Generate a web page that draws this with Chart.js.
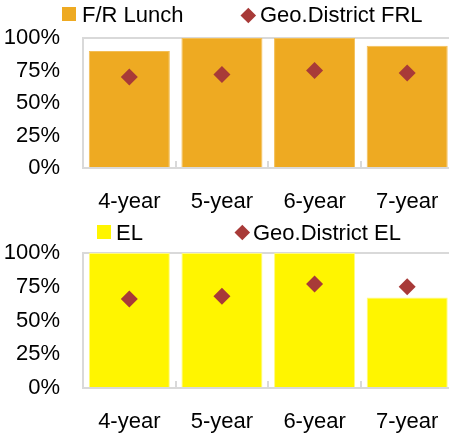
<!DOCTYPE html>
<html lang="en">
<head>
  <meta charset="UTF-8" />
  <title>Graduation rates by group</title>
  <script src="https://cdn.jsdelivr.net/npm/chart.js"></script>
  <style>
    body {
      margin: 0;
      width: 449px;
      height: 439px;
      overflow: hidden;
      background: #fff;
      position: relative;
      font-family: 'Liberation Sans', Arial, sans-serif;
    }
    .panel { position: absolute; left: 0; width: 462px; }
    .legend { position: absolute; left: 0; top: 0; width: 449px; height: 30px; font-size: 22px; color: #000; }
    .legend span { position: absolute; white-space: nowrap; line-height: 1; }
    .key { position: absolute; }
  </style>
</head>
<body>
  <div class="panel" style="top:0;height:220px">
    <canvas id="frl" width="462" height="220"></canvas>
    <div class="legend" id="frlLegend"></div>
  </div>
  <div class="panel" style="top:220px;height:219px">
    <canvas id="el" width="462" height="219"></canvas>
    <div class="legend" id="elLegend"></div>
  </div>

  <script>
    const years = ["4-year", "5-year", "6-year", "7-year"];
    const frlRates = [90, 100, 100, 94];
    const geoFrlRates = [70, 72, 75, 73];
    const elRates = [100, 100, 100, 67];
    const geoElRates = [66, 68, 77, 75];
    const yTicks = [0, 25, 50, 75, 100];

    const geoColor = "#A83A38";
    Chart.defaults.font.family = "'Liberation Sans', Arial, sans-serif";
    Chart.defaults.font.size = 22;
    Chart.defaults.color = "#000";

    function drawChart(id, barLabel, barData, barColor, barEdge, geoLabel, geoData, topPad, axisHeight) {
      return new Chart(document.getElementById(id), {
        type: "bar",
        data: {
          labels: years,
          datasets: [
            {
              label: barLabel, data: barData, backgroundColor: barColor,
              borderColor: barEdge, borderWidth: 1,
              barPercentage: 0.875, categoryPercentage: 1, order: 2
            },
            {
              type: "line", label: geoLabel, data: geoData, showLine: false,
              pointStyle: "rectRot", pointRadius: 8.5, pointHoverRadius: 8.5,
              backgroundColor: geoColor, borderColor: geoColor, borderWidth: 0, order: 1
            }
          ]
        },
        options: {
          responsive: false,
          animation: false,
          events: [],
          layout: { padding: { top: topPad, right: 0, bottom: 0, left: 0 } },
          plugins: { legend: { display: false }, tooltip: { enabled: false } },
          scales: {
            x: {
              grid: { drawOnChartArea: false, drawTicks: true, tickLength: -7, color: "#d9d9d9", lineWidth: 2 },
              border: { color: "#d9d9d9", width: 2 },
              ticks: { padding: 28, maxRotation: 0, autoSkip: false },
              afterFit: s => { s.height = axisHeight; s.paddingLeft = 0; s.paddingRight = 0; }
            },
            y: {
              min: 0, max: 100,
              afterBuildTicks: s => { s.ticks = yTicks.map(v => ({ value: v })); },
              ticks: { callback: v => v + "%", padding: 23, autoSkip: false },
              grid: {
                drawTicks: false, lineWidth: 2,
                color: c => (c.tick && c.tick.value === 100 ? "#d9d9d9" : "rgba(0,0,0,0)")
              },
              border: { color: "#d9d9d9", width: 2 },
              afterFit: s => { s.width = 83; s.paddingTop = 0; s.paddingBottom = 0; }
            }
          }
        }
      });
    }

    // legend built from the chart's datasets, placed like the original
    function buildLegend(chart, boxId, spots) {
      const box = document.getElementById(boxId);
      chart.data.datasets.forEach((ds, i) => {
        const s = spots[i];
        const key = document.createElement("div");
        key.className = "key";
        if (ds.type === "line") {
          key.style.cssText = `left:${s.kx}px;top:${s.ky}px;width:10.6px;height:10.6px;background:${ds.backgroundColor};transform:rotate(45deg)`;
        } else {
          key.style.cssText = `left:${s.kx}px;top:${s.ky}px;width:14px;height:14px;background:${ds.backgroundColor}`;
        }
        const txt = document.createElement("span");
        txt.textContent = ds.label;
        txt.style.left = s.tx + "px";
        txt.style.top = s.ty + "px";
        box.appendChild(key);
        box.appendChild(txt);
      });
    }

    const frlChart = drawChart("frl", "F/R Lunch", frlRates, "#EEAA22", "#F3BE55", "Geo.District FRL", geoFrlRates, 38, 52);
    const elChart = drawChart("el", "EL", elRates, "#FFF500", "#FFFA80", "Geo.District EL", geoElRates, 33, 51);

    buildLegend(frlChart, "frlLegend", [
      { kx: 62, ky: 7, tx: 82, ty: 4 },
      { kx: 242.5, ky: 9.5, tx: 260, ty: 4 }
    ]);
    buildLegend(elChart, "elLegend", [
      { kx: 97, ky: 5, tx: 116, ty: 1.5 },
      { kx: 237.2, ky: 6.7, tx: 253, ty: 1.5 }
    ]);
  </script>
</body>
</html>
